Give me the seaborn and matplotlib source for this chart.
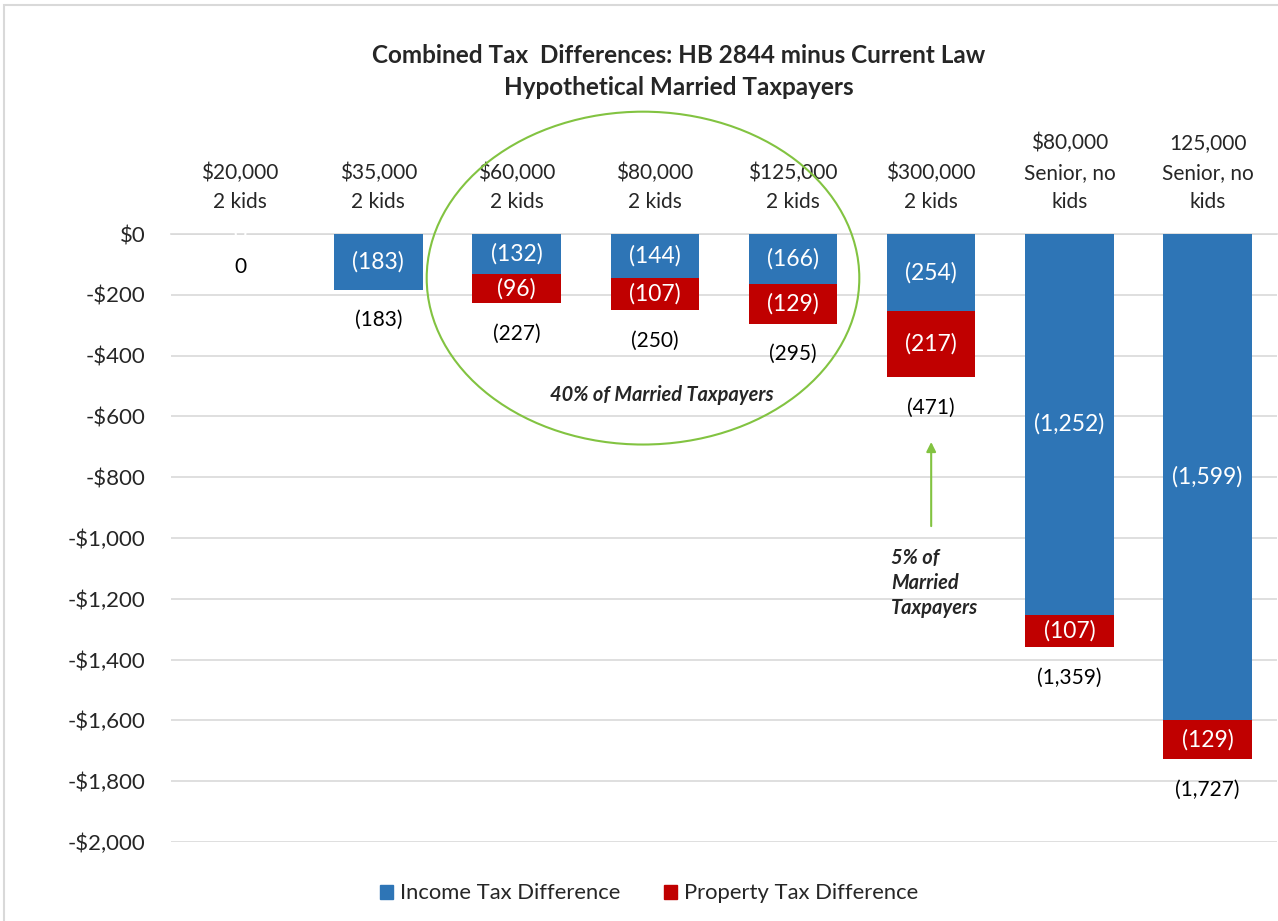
import matplotlib
matplotlib.use("Agg")
import matplotlib.pyplot as plt
import seaborn as sns
import pandas as pd
from matplotlib.patches import Ellipse, Rectangle, Patch

categories = ["$20,000\n2 kids", "$35,000\n2 kids", "$60,000\n2 kids", "$80,000\n2 kids",
              "$125,000\n2 kids", "$300,000\n2 kids", "$80,000\nSenior, no\nkids", "125,000\nSenior, no\nkids"]
income = [0, -183, -132, -144, -166, -254, -1252, -1599]
property_tax = [0, 0, -96, -107, -129, -217, -107, -129]
totals = [0, -183, -227, -250, -295, -471, -1359, -1727]
yticks = [0, -200, -400, -600, -800, -1000, -1200, -1400, -1600, -1800, -2000]

BLUE = "#2E75B6"
RED = "#C00000"
GREEN = "#82C341"

sns.set_theme(style="white")
plt.rcParams['font.family'] = ['Lato', 'DejaVu Sans']

df = pd.DataFrame({"cat": categories, "income": income,
                   "combined": [a + b for a, b in zip(income, property_tax)]})

fig = plt.figure(figsize=(12.78, 9.21), dpi=100)
ax = fig.add_axes([0.1338, 0.0858, 0.8652, 0.6601])

sns.barplot(data=df, x="cat", y="combined", color=RED, width=0.64, saturation=1, ax=ax,
            zorder=3, linewidth=0)
sns.barplot(data=df, x="cat", y="income", color=BLUE, width=0.64, saturation=1, ax=ax,
            zorder=4, linewidth=0)

ax.set_ylim(-2000, 0)
ax.set_xlim(-0.5, len(categories) - 0.5)
ax.set_yticks(yticks)
ax.set_yticklabels([("$0" if v == 0 else "-${:,}".format(-v)) for v in yticks], fontsize=16)
ax.yaxis.grid(True, color="#D9D9D9", linewidth=1.2, zorder=0)
ax.set_axisbelow(True)
ax.xaxis.tick_top()
ax.set_xticks(range(len(categories)))
ax.set_xticklabels(categories, fontsize=15, linespacing=1.6)
ax.tick_params(axis="x", length=0, pad=15.5)
ax.tick_params(axis="y", length=0, pad=18.5)
ax.set_xlabel("")
ax.set_ylabel("")
for s in ["left", "right", "bottom"]:
    ax.spines[s].set_visible(False)
ax.spines["top"].set_color("#D9D9D9")
ax.spines["top"].set_linewidth(1.2)

# labels
for i, (inc, pr, tot) in enumerate(zip(income, property_tax, totals)):
    lab = "0" if inc == 0 else "({:,})".format(-inc)
    ax.text(i, inc / 2 if inc != 0 else 0, lab, ha="center", va="center", color="white",
            fontsize=16.5, zorder=6)
    if pr != 0:
        ax.text(i, inc + pr / 2, "({:,})".format(-pr), ha="center", va="center", color="white",
                fontsize=16.5, zorder=6)
    tlab = "0" if tot == 0 else "({:,})".format(-tot)
    ax.annotate(tlab, xy=(i, inc + pr), xytext=(0, -22 if tot != 0 else -24), textcoords="offset points",
                ha="center", va="center", fontsize=15, color="black", zorder=6)

# annotations
ell = Ellipse((2.915, -145), 3.13, 1095, fill=False, edgecolor=GREEN, linewidth=1.5,
              clip_on=False, zorder=7)
ax.add_patch(ell)
ax.text(3.05, -530, "40% of Married Taxpayers", ha="center", va="center", fontsize=14.4,
        fontweight="bold", fontstyle="italic", zorder=7)
ax.annotate("", xy=(5.0, -675), xytext=(5.0, -970),
            arrowprops=dict(arrowstyle="-|>", color=GREEN, lw=1.5, mutation_scale=14), zorder=7)
ax.text(4.71, -1148, "5% of\nMarried\nTaxpayers", ha="left", va="center", fontsize=14.4,
        fontweight="bold", fontstyle="italic", linespacing=1.3, zorder=7)

# title
fig.text(0.531, 0.94, "Combined Tax  Differences: HB 2844 minus Current Law", ha="center", va="center",
         fontsize=17.5, fontweight="bold")
fig.text(0.531, 0.905, "Hypothetical Married Taxpayers", ha="center", va="center",
         fontsize=17.5, fontweight="bold")

# legend
handles = [Patch(facecolor=BLUE, edgecolor=BLUE, label="Income Tax Difference"),
           Patch(facecolor=RED, edgecolor=RED, label="Property Tax Difference")]
fig.legend(handles=handles, loc="center", bbox_to_anchor=(0.508, 0.03), ncol=2, frameon=False,
           fontsize=15.8, handlelength=0.6, handleheight=0.6, handletextpad=0.3, columnspacing=2.0)

# chart border
fig.patches.append(Rectangle((0.003, -0.01), 1.2, 1.005, transform=fig.transFigure, fill=False,
                             edgecolor="#D9D9D9", linewidth=1.5))

fig.savefig("out.png", dpi=100)
